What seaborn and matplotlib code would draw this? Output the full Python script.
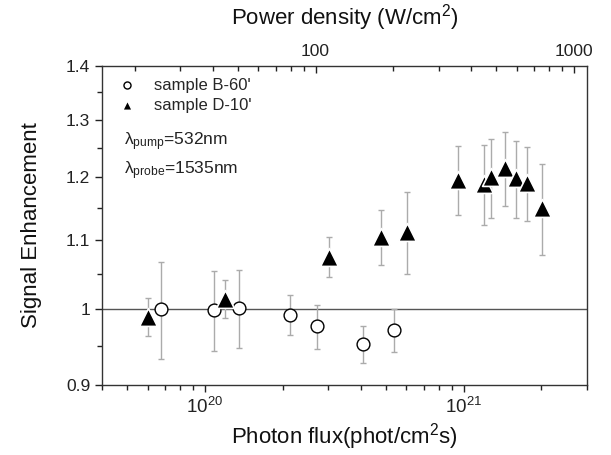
import numpy as np
import pandas as pd
import matplotlib
matplotlib.use("Agg")
import matplotlib.pyplot as plt
import matplotlib.ticker as mticker
import seaborn as sns

# ---- data ----
flux_B = [6.75e19, 1.08e20, 1.36e20, 2.14e20, 2.71e20, 4.07e20, 5.40e20]
enh_B = [1.000, 0.999, 1.001, 0.992, 0.976, 0.952, 0.971]
err_B = [0.067, 0.055, 0.054, 0.028, 0.030, 0.024, 0.029]

flux_D = [6.03e19, 1.20e20, 3.02e20, 4.81e20, 6.05e20, 9.55e20, 1.20e21,
          1.28e21, 1.44e21, 1.60e21, 1.76e21, 2.01e21]
enh_D = [0.989, 1.014, 1.075, 1.105, 1.113, 1.196, 1.189, 1.200, 1.216,
         1.198, 1.191, 1.150]
err_D = [0.026, 0.027, 0.030, 0.042, 0.063, 0.057, 0.066, 0.066, 0.062,
         0.063, 0.061, 0.072]

label_B = "sample B-60'"
label_D = "sample D-10'"
y_ticks = [0.9, 1.0, 1.1, 1.2, 1.3, 1.4]
y_minor = [0.95, 1.05, 1.15, 1.25, 1.35]
photon_energy = 3.734e-19  # J, at 532 nm -> power density = flux * E

sns.set_theme(style="ticks")
plt.rcParams["font.family"] = ["Liberation Sans", "DejaVu Sans"]
plt.rcParams["mathtext.fontset"] = "custom"
plt.rcParams["mathtext.rm"] = "Liberation Sans"
plt.rcParams["mathtext.it"] = "Liberation Sans:italic"

fig = plt.figure(figsize=(6.11, 4.55), dpi=100)
ax = fig.add_axes([102 / 611, 1 - 385 / 455, 485 / 611, 319 / 455])

dfB = pd.DataFrame({"flux": flux_B, "enh": enh_B, "err": err_B})
dfD = pd.DataFrame({"flux": flux_D, "enh": enh_D, "err": err_D})

ax.set_xscale("log")
ax.set_yscale("log")

ax.axhline(1.0, color="#555555", lw=1.0, zorder=1)

ebkw = dict(fmt="none", ecolor="#ababab", elinewidth=1.0, capsize=2.2,
            capthick=1.0, zorder=2)
ax.errorbar(dfB["flux"], dfB["enh"], yerr=dfB["err"], **ebkw)
ax.errorbar(dfD["flux"], dfD["enh"], yerr=dfD["err"], **ebkw)

sns.scatterplot(data=dfB, x="flux", y="enh", ax=ax, marker="o", s=85,
                facecolor="white", edgecolor="black", linewidth=1.0,
                zorder=3, label=label_B)
sns.scatterplot(data=dfD, x="flux", y="enh", ax=ax, marker="^", s=165,
                color="black", edgecolor="white", linewidth=1.2,
                zorder=4, label=label_D)

ax.set_xlim(4e19, 3e21)
ax.set_ylim(0.9, 1.4)

ax.yaxis.set_major_locator(mticker.FixedLocator(y_ticks))
ax.yaxis.set_major_formatter(mticker.FuncFormatter(lambda v, p: f"{v:g}"))
ax.yaxis.set_minor_locator(mticker.FixedLocator(y_minor))
ax.yaxis.set_minor_formatter(mticker.NullFormatter())

ax.xaxis.set_major_locator(mticker.LogLocator(base=10))
ax.xaxis.set_minor_locator(mticker.LogLocator(base=10, subs=np.arange(2, 10)))
ax.xaxis.set_minor_formatter(mticker.NullFormatter())

ax.tick_params(axis="both", which="major", direction="out", length=5,
               width=1, labelsize=12.5, colors="#222222", labelcolor="#222222")
ax.tick_params(axis="x", which="major", labelsize=13.5)
ax.tick_params(axis="both", which="minor", direction="out", length=3.5,
               width=1, colors="#222222")
for sp in ax.spines.values():
    sp.set_color("#333333")
    sp.set_linewidth(1.0)

ax.set_xlabel(r"Photon flux(phot/cm$^2$s)", fontsize=16, color="#111111",
              labelpad=3)
ax.set_ylabel("Signal Enhancement", fontsize=16, color="#111111",
              labelpad=17)

# top axis: power density
top = ax.twiny()
top.set_xscale("log")
top.set_xlim(4e19 * photon_energy, 3e21 * photon_energy)
top.xaxis.set_major_locator(mticker.FixedLocator([100, 1000]))
top.xaxis.set_major_formatter(mticker.FuncFormatter(lambda v, p: f"{v:g}"))
top.xaxis.set_minor_locator(mticker.LogLocator(base=10, subs=np.arange(2, 10)))
top.xaxis.set_minor_formatter(mticker.NullFormatter())
top.tick_params(axis="x", which="major", direction="in", length=5, width=1,
                labelsize=12.5, colors="#222222", pad=5)
top.tick_params(axis="x", which="minor", direction="in", length=3.5, width=1,
                colors="#222222")
top.set_xlabel(r"Power density (W/cm$^2$)", fontsize=16, color="#111111",
               labelpad=14)
for sp in top.spines.values():
    sp.set_visible(False)

leg = ax.legend(loc="upper left", bbox_to_anchor=(0.0, 1.0), frameon=False,
                fontsize=12, markerscale=0.55, handletextpad=0.8,
                labelspacing=0.3, borderaxespad=0.3, handlelength=1.6)

ax.text(0.045, 0.762, "λ$_{\\rm pump}$=532nm", transform=ax.transAxes,
        fontsize=12.5, va="center", ha="left", color="#222222")
ax.text(0.045, 0.672, "λ$_{\\rm probe}$=1535nm", transform=ax.transAxes,
        fontsize=12.5, va="center", ha="left", color="#222222")

fig.savefig("out.png", dpi=100)
